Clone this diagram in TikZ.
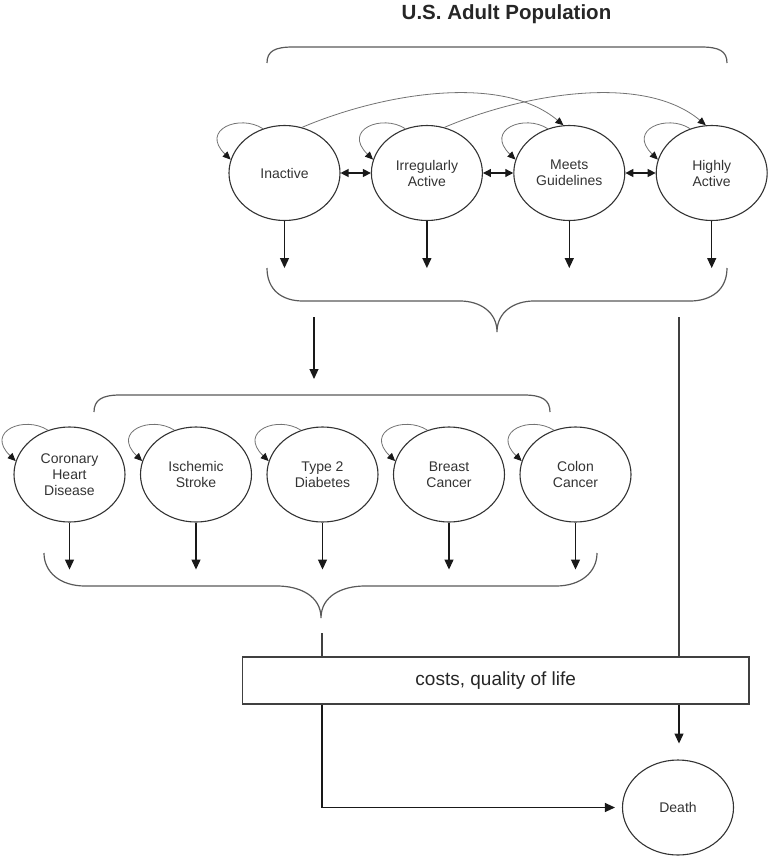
\documentclass[tikz,border=0pt]{standalone}
\usepackage{fontspec}
\setmainfont{Liberation Sans}
\usetikzlibrary{arrows.meta, positioning, shapes.geometric}

\begin{document}
\begin{tikzpicture}[
    x=1pt, y=1pt,
    ell/.style={ellipse, draw=black!80, line width=1.1pt, minimum width=111pt, minimum height=95pt,
                inner sep=0pt, align=center, text=black!80, font=\fontsize{14}{16}\selectfont},
    arr/.style={-{Triangle[length=10pt,width=9pt]}, line width=1.2pt, black!90},
    dbl/.style={{Triangle[length=8pt,width=8pt]}-{Triangle[length=8pt,width=8pt]}, line width=1.2pt, black!90},
    loopy/.style={-{Triangle[length=8pt,width=7pt,color=black!90]}, draw=black!55, line width=0.8pt},
    brace/.style={draw=black!65, line width=1.2pt},
    conn/.style={draw=black!75, line width=1.2pt},
]
\useasboundingbox (0,0) rectangle (772,-859);
\node[anchor=base, font=\bfseries\fontsize{20.5}{24}\selectfont, text=black!85] (title) at (506.5,-20) {U.S. Adult Population};
% === Activity levels (top row) ===
\draw[brace] (267,-63) .. controls (267,-51) and (275,-47) .. (293,-47) -- (701,-47)
    .. controls (719,-47) and (727,-51) .. (727,-63);
\node[ell] (inactive) at (284.5,-173) {Inactive};
\node[ell, right=30.3pt of inactive] (irreg) {Irregularly\\Active};
\node[ell, right=30.3pt of irreg] (meets) {Meets\\Guidelines};
\node[ell, right=30.3pt of meets] (highly) {Highly\\Active};
\foreach \a/\b in {inactive/irreg, irreg/meets, meets/highly}
    \draw[dbl] (\a) -- (\b);
\draw[loopy] (inactive.69) .. controls +(80,34) and +(-62,52) .. (meets.97);
\draw[loopy] (irreg.69) .. controls +(80,34) and +(-62,52) .. (highly.97);
\foreach \n in {inactive, irreg, meets, highly} {
    \draw[loopy] (\n.116) .. controls +(-23,15) and +(-31,30) .. (\n.166);
    \draw[arr] (\n.south) -- ++(0,-47);
}
\draw[brace] (267,-268) .. controls (267,-290) and (282,-301) .. (303,-301) -- (460,-301)
    .. controls (480,-301) and (497,-312) .. (497,-332)
    .. controls (497,-312) and (514,-301) .. (534,-301) -- (690,-301)
    .. controls (711,-301) and (727,-290) .. (727,-268);
\coordinate (down) at (314,-317);
\coordinate (rtop) at (679,-317);
\draw[arr] (down) -- ++(0,-62);
% === Diseases (middle row) ===
\draw[brace] (94,-412) .. controls (94,-400) and (102,-395) .. (120,-395) -- (524,-395)
    .. controls (542,-395) and (550,-400) .. (550,-412);
\node[ell] (chd) at (69.5,-474.5) {Coronary\\Heart\\Disease};
\node[ell, right=14.4pt of chd] (stroke) {Ischemic\\Stroke};
\node[ell, right=14.4pt of stroke] (diab) {Type 2\\Diabetes};
\node[ell, right=14.4pt of diab] (breast) {Breast\\Cancer};
\node[ell, right=14.4pt of breast] (colon) {Colon\\Cancer};
\foreach \n in {chd, stroke, diab, breast, colon} {
    \draw[loopy] (\n.116) .. controls +(-23,15) and +(-31,30) .. (\n.166);
    \draw[arr] (\n.south) -- ++(0,-47);
}
\draw[brace] (44,-553) .. controls (44,-572) and (60,-586) .. (85,-586) -- (277,-586)
    .. controls (300,-586) and (321,-596) .. (321,-618)
    .. controls (321,-596) and (342,-586) .. (365,-586) -- (556,-586)
    .. controls (581,-586) and (597,-572) .. (597,-553);
\coordinate (ltop) at (322,-633);
% === Outcomes ===
\node[draw=black!75, line width=1.1pt, minimum width=506.5pt, minimum height=47pt, text=black!85,
      font=\fontsize{19}{22}\selectfont] (costs) at (495.75,-680.5) {costs, quality of life};
\node[ell] (death) at (678,-807.5) {Death};
\draw[conn] (rtop) -- (rtop |- costs.north);
\draw[conn] (ltop) -- (ltop |- costs.north);
\draw[arr] (rtop |- costs.south) -- ++(0,-39);
\draw[arr] (ltop |- costs.south) |- ([xshift=-7pt]death.west);
\end{tikzpicture}
\end{document}
